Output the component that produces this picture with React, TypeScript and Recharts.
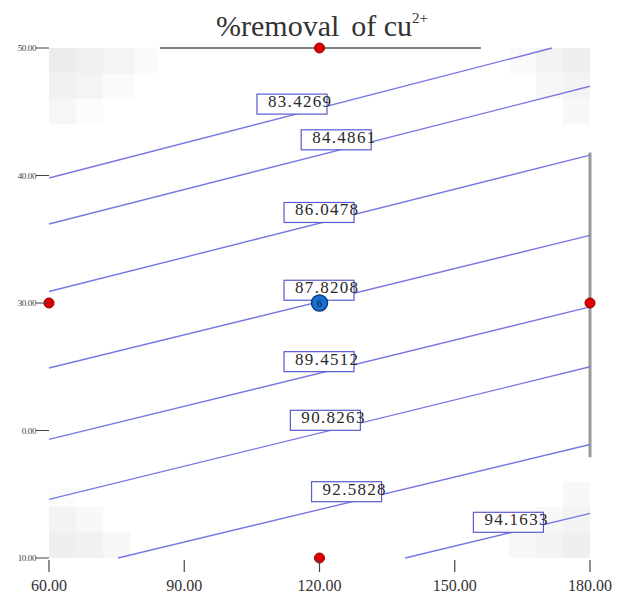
import { ComposedChart, Line, Scatter, XAxis, YAxis, ReferenceArea } from 'recharts'

// contour levels, in the order they are drawn from top-left to bottom-right
const contourLevels = ['83.4269', '84.4861', '86.0478', '87.8208', '89.4512', '90.8263', '92.5828', '94.1633']

// each contour is a straight segment: start point and end point (x = time, y = second factor)
const contourStartX = [60, 60, 60, 60, 60, 60, 75.3, 139.0]
const contourStartY = [39.8, 36.2, 30.9, 24.9, 19.3, 14.6, 10, 10]
const contourEndX = [171.6, 180, 180, 180, 180, 180, 180, 180]
const contourEndY = [50, 47.0, 41.6, 35.3, 29.7, 25.0, 18.9, 13.5]

// where each level label sits
const labelX = [113.9, 123.7, 119.9, 119.9, 119.9, 121.3, 126.0, 161.9]
const labelY = [45.6, 42.8, 37.1, 31.0, 25.4, 20.8, 15.2, 12.8]

// design points
const axialX = [120, 60, 180, 120]
const axialY = [50, 30, 30, 10]
const centerX = [120]
const centerY = [30]
const centerCount = ['6']

// gray factor-range lines
const topRangeX = [84.6, 155.8]
const topRangeY = [50, 50]
const rightRangeX = [180, 180]
const rightRangeY = [17.9, 41.8]

const xTicks = [60, 90, 120, 150, 180]
const xTickLabels = ['60.00', '90.00', '120.00', '150.00', '180.00']
const yTicks = [10, 20, 30, 40, 50]
const yTickLabels = ['10.00', '0.00', '30.00', '40.00', '50.00']

// light gray colour-map patches in the corners: x1, x2, y1, y2, opacity
const shadeCells = [
  [60, 66, 48, 50, 0.7], [66, 72, 48, 50, 0.55], [72, 79, 48, 50, 0.4], [79, 84, 48, 50, 0.2],
  [60, 66, 46, 48, 0.55], [66, 72, 46, 48, 0.4], [72, 79, 46, 48, 0.2],
  [60, 66, 44, 46, 0.35], [66, 72, 44, 46, 0.15],
  [174, 180, 48, 50, 0.6], [168, 174, 48, 50, 0.45], [162, 168, 48, 50, 0.2],
  [174, 180, 46, 48, 0.45], [168, 174, 46, 48, 0.3], [174, 180, 44, 46, 0.25],
  [60, 66, 10, 12, 0.6], [66, 72, 10, 12, 0.5], [72, 78, 10, 12, 0.3],
  [60, 66, 12, 14, 0.45], [66, 72, 12, 14, 0.25], [60, 66, 14, 15.5, 0.15],
  [174, 180, 10, 12, 0.6], [168, 174, 10, 12, 0.45], [162, 168, 10, 12, 0.25],
  [174, 180, 12, 14, 0.45], [168, 174, 12, 14, 0.25], [174, 180, 14, 16, 0.25],
]

const SERIF = '"Liberation Serif", "Times New Roman", serif'
const LINE_COLOR = '#7878e4'
const BOX_COLOR = '#5a5ad0'

const contours = contourLevels.map((level, i) => ({
  level,
  points: [
    { x: contourStartX[i], y: contourStartY[i] },
    { x: contourEndX[i], y: contourEndY[i] },
  ],
}))
const labelPoints = contourLevels.map((level, i) => ({ x: labelX[i], y: labelY[i], level }))
const axialPoints = axialX.map((x, i) => ({ x, y: axialY[i] }))
const centerPoints = centerX.map((x, i) => ({ x, y: centerY[i], n: centerCount[i] }))
const topRange = topRangeX.map((x, i) => ({ x, y: topRangeY[i] }))
const rightRange = rightRangeX.map((x, i) => ({ x, y: rightRangeY[i] }))

const XTick = (props: any) => {
  const { x, y, index } = props
  return (
    <g>
      <line x1={x} y1={y + 2} x2={x} y2={y + 14} stroke="#444" strokeWidth={1.2} />
      <text x={x} y={y + 33} textAnchor="middle" fontSize={16} fontFamily={SERIF} fill="#333">
        {xTickLabels[index]}
      </text>
    </g>
  )
}

const YTick = (props: any) => {
  const { x, y, index } = props
  return (
    <g>
      <line x1={x - 13} y1={y} x2={x} y2={y} stroke="#444" strokeWidth={1} />
      <text x={x - 13} y={y + 3} textAnchor="end" fontSize={9} fontFamily={SERIF} fill="#444" letterSpacing={-0.4}>
        {yTickLabels[index]}
      </text>
    </g>
  )
}

const LevelLabel = (props: any) => {
  const { cx, cy, payload } = props
  return (
    <g>
      <rect x={cx - 35} y={cy - 10} width={70} height={20} fill="#fff" stroke={BOX_COLOR} strokeWidth={1.2} />
      <text x={cx - 24} y={cy + 3} fontSize={17} fontFamily={SERIF} fill="#2a2a2a" letterSpacing={1.3}>
        {payload.level}
      </text>
    </g>
  )
}

const AxialDot = (props: any) => {
  const { cx, cy } = props
  return <circle cx={cx} cy={cy} r={5} fill="#e00000" stroke="#8a0000" strokeWidth={1} />
}

const CenterDot = (props: any) => {
  const { cx, cy, payload } = props
  return (
    <g>
      <circle cx={cx} cy={cy} r={8} fill="#1a6fd6" stroke="#0d3a80" strokeWidth={1.5} />
      <text x={cx} y={cy + 4} textAnchor="middle" fontSize={11} fontFamily={SERIF} fill="#0a1a30">
        {payload.n}
      </text>
    </g>
  )
}

export default function App() {
  return (
    <div style={{ position: 'absolute', left: 0, top: 0, width: 619, height: 594, background: '#fff' }}>
      <ComposedChart width={619} height={594} margin={{ top: 48, right: 29, bottom: 0, left: 0 }}>
        <XAxis
          type="number"
          dataKey="x"
          domain={[60, 180]}
          ticks={xTicks}
          axisLine={false}
          tickLine={false}
          tickSize={0}
          tickMargin={0}
          height={36}
          tick={<XTick />}
        />
        <YAxis
          type="number"
          dataKey="y"
          domain={[10, 50]}
          ticks={yTicks}
          axisLine={false}
          tickLine={false}
          tickSize={0}
          tickMargin={0}
          width={49}
          tick={<YTick />}
        />
        {shadeCells.map((c, i) => (
          <ReferenceArea
            key={`shade-${i}`}
            x1={c[0]}
            x2={c[1]}
            y1={c[2]}
            y2={c[3]}
            fill="#e4e4e4"
            fillOpacity={c[4]}
            stroke="none"
          />
        ))}
        <Line
          data={topRange}
          dataKey="y"
          type="linear"
          stroke="#555"
          strokeWidth={1.5}
          dot={false}
          isAnimationActive={false}
        />
        <Line
          data={rightRange}
          dataKey="y"
          type="linear"
          stroke="#9a9a9a"
          strokeWidth={3}
          dot={false}
          isAnimationActive={false}
        />
        {contours.map((c) => (
          <Line
            key={c.level}
            data={c.points}
            dataKey="y"
            type="linear"
            stroke={LINE_COLOR}
            strokeWidth={1.4}
            dot={false}
            isAnimationActive={false}
          />
        ))}
        <Scatter data={labelPoints} shape={<LevelLabel />} isAnimationActive={false} />
        <Scatter data={axialPoints} shape={<AxialDot />} isAnimationActive={false} />
        <Scatter data={centerPoints} shape={<CenterDot />} isAnimationActive={false} />
      </ComposedChart>
      <svg width={619} height={48} style={{ position: 'absolute', left: 0, top: 0, pointerEvents: 'none' }}>
        <text x={216} y={36} fontSize={30} fontFamily={SERIF} fill="#333">
          %removal
          <tspan dx={12}>of cu</tspan>
          <tspan fontSize={15} dy={-13}>2+</tspan>
        </text>
      </svg>
    </div>
  )
}
